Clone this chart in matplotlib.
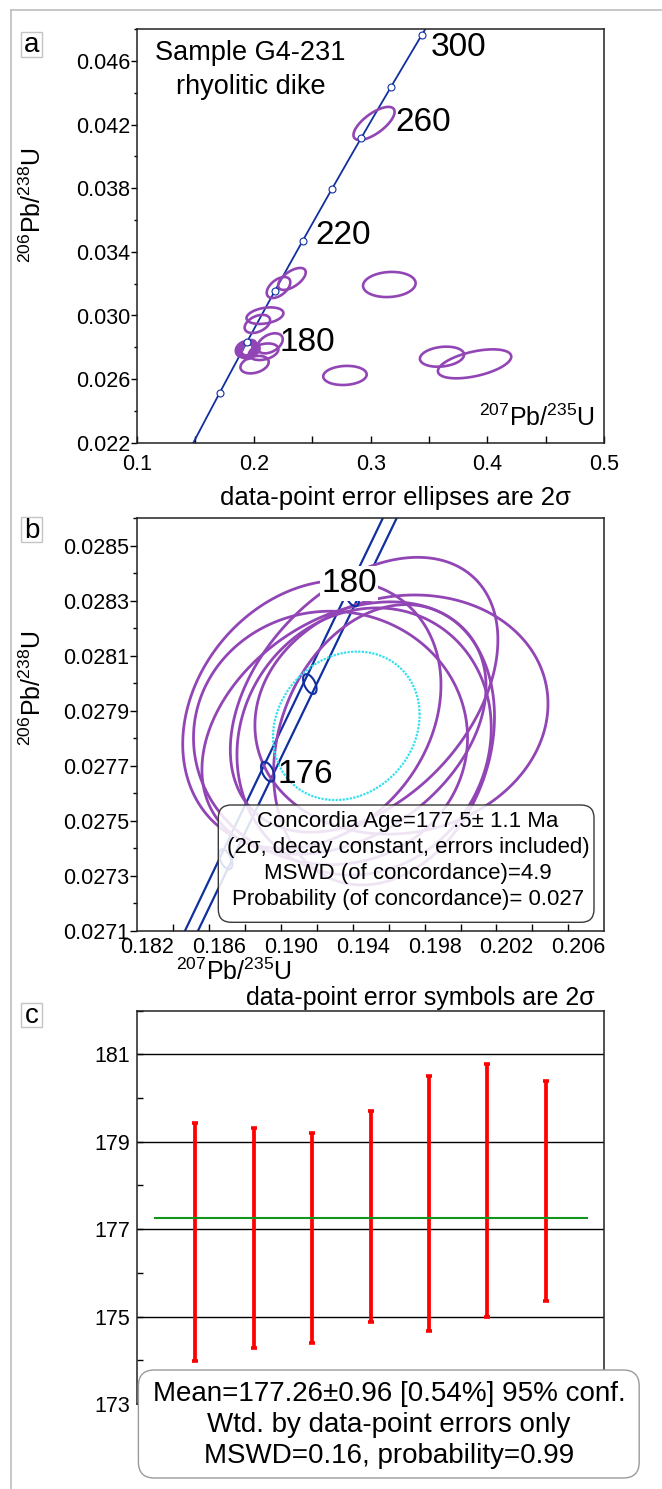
import numpy as np
import matplotlib
matplotlib.use('Agg')
import matplotlib.pyplot as plt
from matplotlib.patches import FancyBboxPatch, Rectangle, Polygon
from matplotlib.lines import Line2D
from matplotlib.ticker import FixedLocator
from matplotlib import transforms

plt.rcParams['font.family'] = ['Liberation Sans', 'DejaVu Sans']
plt.rcParams['mathtext.fontset'] = 'custom'
plt.rcParams['mathtext.rm'] = 'Liberation Sans'
plt.rcParams['mathtext.it'] = 'Liberation Sans:italic'
plt.rcParams['mathtext.bf'] = 'Liberation Sans:bold'

W, H, DPI = 662, 1489, 100

# ---------------- data ----------------
L238 = 1.55125e-10
L235 = 9.8485e-10
L235_REL_ERR = 0.0018          # decay-constant band (relative)

# panel a
conc_marker_ages_a = [160, 180, 200, 220, 240, 260, 280, 300]
conc_label_ages_a = [180, 220, 260, 300]
ell_a_x = [0.3029, 0.2326, 0.3160, 0.2211, 0.2095, 0.2030, 0.2138, 0.2006, 0.2084, 0.2780, 0.3611, 0.3890]
ell_a_y = [0.04208, 0.03230, 0.03195, 0.03176, 0.02999, 0.02947, 0.02825, 0.02691, 0.02772, 0.02623, 0.02741, 0.02696]
ell_a_sx = [0.0176, 0.0118, 0.0225, 0.0101, 0.0158, 0.0109, 0.0109, 0.0121, 0.0126, 0.0186, 0.0189, 0.0314]
ell_a_sy = [0.00104, 0.00069, 0.00079, 0.00066, 0.00052, 0.00057, 0.00063, 0.00055, 0.00052, 0.00060, 0.00063, 0.00091]
ell_a_rho = [0.70, 0.60, 0.10, 0.50, 0.30, 0.40, 0.40, 0.30, 0.30, 0.10, 0.20, 0.50]
xticks_a = [0.1, 0.2, 0.3, 0.4, 0.5]
yticks_a = [0.022, 0.026, 0.030, 0.034, 0.038, 0.042, 0.046]

# panel b (concordant analyses)
ell_b_x = [0.19172, 0.19463, 0.19671, 0.19351, 0.19276, 0.19463, 0.19574]
ell_b_y = [0.027886, 0.027958, 0.027886, 0.027837, 0.027801, 0.027788, 0.027776]
ell_b_sx = [0.00719, 0.00745, 0.00816, 0.00791, 0.00763, 0.00708, 0.00615]
ell_b_sy = [0.000488, 0.000500, 0.000435, 0.000459, 0.000461, 0.000486, 0.000510]
ell_b_rho = [0.22, 0.40, 0.09, 0.33, 0.00, 0.10, 0.20]
mean_ell = dict(x=0.19364, y=0.027845, sx=0.00408, sy=0.00027, rho=0.15)
conc_marker_ages_b = [174, 176, 178, 180]
conc_label_ages_b = [176, 180]
marker_sy_b = 0.000036
xticklabels_b = [0.182, 0.186, 0.190, 0.194, 0.198, 0.202, 0.206]
yticks_b = [0.0271, 0.0273, 0.0275, 0.0277, 0.0279, 0.0281, 0.0283, 0.0285]

# panel c
c_pos = [1, 2, 3, 4, 5, 6, 7]
c_lo = [173.98, 174.28, 174.39, 174.88, 174.68, 174.98, 175.36]
c_hi = [179.42, 179.31, 179.21, 179.71, 180.50, 180.79, 180.40]
c_mean = 177.26
c_mean_span = [0.3, 7.7]
yticks_c = [173, 175, 177, 179, 181]

box_b_lines = ["Concordia Age=177.5\u00b1 1.1 Ma",
               "(2\u03c3, decay constant, errors included)",
               "MSWD (of concordance)=4.9",
               "Probability (of concordance)= 0.027"]
box_c_lines = ["Mean=177.26\u00b10.96 [0.54%] 95% conf.",
               "Wtd. by data-point errors only",
               "MSWD=0.16, probability=0.99"]

# ---------------- helpers ----------------
PURPLE = '#9245b5'
BLUE = '#1030a0'


def conc(t, lam235=L235):
    t = np.asarray(t, dtype=float) * 1e6
    return np.expm1(lam235 * t), np.expm1(L238 * t)


def ell_pts(cx, cy, sx, sy, rho, n=240):
    t = np.linspace(0, 2 * np.pi, n, endpoint=False)
    return cx + sx * np.cos(t), cy + sy * (rho * np.cos(t) + np.sqrt(1 - rho ** 2) * np.sin(t))


def draw_ell(ax, cx, cy, sx, sy, rho, **kw):
    ex, ey = ell_pts(cx, cy, sx, sy, rho)
    ax.add_patch(Polygon(np.column_stack([ex, ey]), closed=True, fill=False, **kw))


def rect(l, t, r, b):
    return [l / W, 1 - b / H, (r - l) / W, (b - t) / H]


def ftext(px, py, s, **kw):
    return fig.text(px / W, 1 - py / H, s, **kw)


def rbox(x0, y0, x1, y1, r, fc, ec, lw, z):
    p = FancyBboxPatch((x0 / DPI, (H - y1) / DPI), (x1 - x0) / DPI, (y1 - y0) / DPI,
                       boxstyle=f"round,pad=0,rounding_size={r / DPI}",
                       transform=fig.dpi_scale_trans, fc=fc, ec=ec, lw=lw, zorder=z)
    fig.add_artist(p)


def letter(px0, py0, px1, py1, s):
    p = Rectangle((px0 / DPI, (H - py1) / DPI), (px1 - px0) / DPI, (py1 - py0) / DPI,
                  transform=fig.dpi_scale_trans, fc='white', ec='#c4c4c4', lw=1.0, zorder=5)
    fig.add_artist(p)
    ftext((px0 + px1) / 2, (py0 + py1) / 2 + 1, s, ha='center', va='center', fontsize=20, zorder=6)


def style_spines(ax):
    for s in ax.spines.values():
        s.set_linewidth(1.1)
        s.set_color('#222222')


fig = plt.figure(figsize=(W / DPI, H / DPI), dpi=DPI)

# outer light frame
fig.add_artist(Line2D([10.5 / W, 1], [1 - 10 / H, 1 - 10 / H], transform=fig.transFigure, color='#bdbdbd', lw=1.2))
fig.add_artist(Line2D([10.5 / W, 10.5 / W], [0, 1 - 10 / H], transform=fig.transFigure, color='#bdbdbd', lw=1.2))

TICK_FS = 15.5
AX_FS = 18

# ---------------- panel a ----------------
axa = fig.add_axes(rect(137.1, 29.3, 604.2, 442.7))
axa.set_xlim(0.1, 0.5)
axa.set_ylim(0.022, 0.048)
tt = np.linspace(120, 330, 400)
cx_, cy_ = conc(tt)
axa.plot(cx_, cy_, color=BLUE, lw=1.3, zorder=2)
mx, my = conc(conc_marker_ages_a)
axa.plot(mx, my, 'o', ms=5, mfc='white', mec=BLUE, mew=0.8, zorder=4)
for i in range(len(ell_a_x)):
    draw_ell(axa, ell_a_x[i], ell_a_y[i], ell_a_sx[i], ell_a_sy[i], ell_a_rho[i], ec=PURPLE, lw=1.9, zorder=3)
for i in range(len(ell_b_x)):
    draw_ell(axa, ell_b_x[i], ell_b_y[i], ell_b_sx[i], ell_b_sy[i], ell_b_rho[i], ec=PURPLE, lw=1.9, zorder=3)
offs_a = {180: (60, 0), 220: (40, 5), 260: (62, 16), 300: (37, -12)}
for age in conc_label_ages_a:
    lx, ly = conc(age)
    axa.annotate(str(age), xy=(float(lx), float(ly)), xytext=offs_a[age], textcoords='offset pixels',
                 ha='center', va='center', fontsize=24)
axa.xaxis.set_major_locator(FixedLocator(xticks_a))
axa.xaxis.set_minor_locator(FixedLocator([0.15, 0.25, 0.35, 0.45]))
axa.yaxis.set_major_locator(FixedLocator(yticks_a))
axa.yaxis.set_minor_locator(FixedLocator([v + 0.002 for v in yticks_a]))
axa.xaxis.set_major_formatter(plt.FuncFormatter(lambda v, p: f'{v:.1f}'))
axa.yaxis.set_major_formatter(plt.FuncFormatter(lambda v, p: f'{v:.3f}'))
axa.tick_params(axis='x', which='both', direction='in', length=5, width=1, labelsize=TICK_FS, pad=8)
axa.tick_params(axis='y', which='major', direction='out', length=4, width=1, labelsize=TICK_FS, pad=1)
axa.tick_params(axis='y', which='minor', direction='out', length=2.5, width=1)
style_spines(axa)
ftext(250, 53, 'Sample G4-231', ha='center', va='center', fontsize=19.5)
ftext(251, 87, 'rhyolitic dike', ha='center', va='center', fontsize=19.5)
ftext(537, 418, r'$^{207}$Pb/$^{235}$U', ha='center', va='center', fontsize=AX_FS)
ftext(33, 205, r'$^{206}$Pb/$^{238}$U', ha='center', va='center', fontsize=AX_FS, rotation=90)
letter(21, 32, 42, 57, 'a')

# ---------------- panel b ----------------
ftext(395, 498, 'data-point error ellipses are 2\u03c3', ha='center', va='center', fontsize=18.5)
axb = fig.add_axes(rect(137.3, 518.3, 604.2, 930.6))
axb.set_xlim(0.182, 0.208)
axb.set_ylim(0.0271, 0.0286)
tb = np.linspace(168, 186, 300)
for sgn in (-1, 1):
    bx, by = conc(tb, L235 * (1 + sgn * L235_REL_ERR))
    axb.plot(bx, by, color=BLUE, lw=1.6, zorder=2)
for i in range(len(ell_b_x)):
    draw_ell(axb, ell_b_x[i], ell_b_y[i], ell_b_sx[i], ell_b_sy[i], ell_b_rho[i], ec=PURPLE, lw=2.0, zorder=3)
draw_ell(axb, mean_ell['x'], mean_ell['y'], mean_ell['sx'], mean_ell['sy'], mean_ell['rho'],
         ec='#35e0ee', lw=1.6, ls=(0, (1, 0.6)), zorder=3)
for age in conc_marker_ages_b:
    xm, ym = conc(age)
    xlo, _ = conc(age, L235 * (1 - L235_REL_ERR))
    xhi, _ = conc(age, L235 * (1 + L235_REL_ERR))
    draw_ell(axb, float(xm), float(ym), float(xlo - xhi) / 2, marker_sy_b, 0.5, ec=BLUE, lw=1.5, zorder=4)
offs_b = {176: (38, -3), 180: (-3, 13)}
for age in conc_label_ages_b:
    lx, ly = conc(age)
    bb = dict(boxstyle='square,pad=0.05', fc='white', ec='none') if age == 180 else None
    axb.annotate(str(age), xy=(float(lx), float(ly)), xytext=offs_b[age], textcoords='offset pixels',
                 ha='center', va='center', fontsize=24, bbox=bb, zorder=6)
axb.xaxis.set_major_locator(FixedLocator(np.arange(0.184, 0.2075, 0.002)))
axb.yaxis.set_major_locator(FixedLocator(yticks_b))
axb.yaxis.set_minor_locator(FixedLocator([v + 0.0001 for v in yticks_b]))
axb.yaxis.set_major_formatter(plt.FuncFormatter(lambda v, p: f'{v:.4f}'))
axb.tick_params(axis='x', which='both', direction='in', length=5, width=1, labelbottom=False)
axb.tick_params(axis='y', which='major', direction='out', length=5, width=1, labelsize=TICK_FS, pad=1)
axb.tick_params(axis='y', which='minor', direction='out', length=3, width=1)
style_spines(axb)
xlab_trans = transforms.blended_transform_factory(axb.transData, axb.transAxes) + \
    transforms.ScaledTranslation(10 / DPI, -6 / DPI, fig.dpi_scale_trans)
for v in xticklabels_b:
    axb.text(v, 0, f'{v:.3f}', transform=xlab_trans, ha='center', va='top', fontsize=TICK_FS)
ftext(234, 972, r'$^{207}$Pb/$^{235}$U', ha='center', va='center', fontsize=AX_FS)
ftext(33, 688, r'$^{206}$Pb/$^{238}$U', ha='center', va='center', fontsize=AX_FS, rotation=90)
letter(21, 517, 42, 542, 'b')
rbox(218.3, 805, 594, 922.3, 13, (1, 1, 1, 0.86), '#3a3a3a', 1.0, 7)
for k, s in enumerate(box_b_lines):
    ftext(408, 822 + k * 25.8, s, ha='center', va='center', fontsize=16, zorder=8)

# ---------------- panel c ----------------
ftext(420, 998, 'data-point error symbols are 2\u03c3', ha='center', va='center', fontsize=18)
axc = fig.add_axes(rect(137.1, 1010.7, 604.2, 1404))
axc.set_xlim(0, 8)
axc.set_ylim(173, 182)
for g in yticks_c[1:]:
    axc.axhline(g, color='black', lw=1.0, zorder=1)
c_mid = [(a + b) / 2 for a, b in zip(c_lo, c_hi)]
c_err = [(b - a) / 2 for a, b in zip(c_lo, c_hi)]
axc.errorbar(c_pos, c_mid, yerr=c_err, fmt='none', ecolor='#ff0000', elinewidth=2.7,
             capsize=2.2, capthick=2.6, zorder=3)
axc.plot(c_mean_span, [c_mean, c_mean], color='#14961e', lw=1.5, zorder=4)
axc.yaxis.set_major_locator(FixedLocator(yticks_c))
axc.yaxis.set_minor_locator(FixedLocator([v + 1 for v in yticks_c]))
axc.set_xticks([])
axc.tick_params(axis='y', which='major', direction='in', length=4, width=1, labelsize=TICK_FS, pad=5)
axc.tick_params(axis='y', which='minor', direction='in', length=4, width=1)
style_spines(axc)
letter(21, 1003, 42, 1027, 'c')
rbox(138.4, 1370, 639.2, 1478, 16, 'white', '#9a9a9a', 1.0, 7)
for k, s in enumerate(box_c_lines):
    ftext(389, 1394 + k * 31, s, ha='center', va='center', fontsize=20, zorder=8)

fig.savefig('out.png', dpi=DPI)
